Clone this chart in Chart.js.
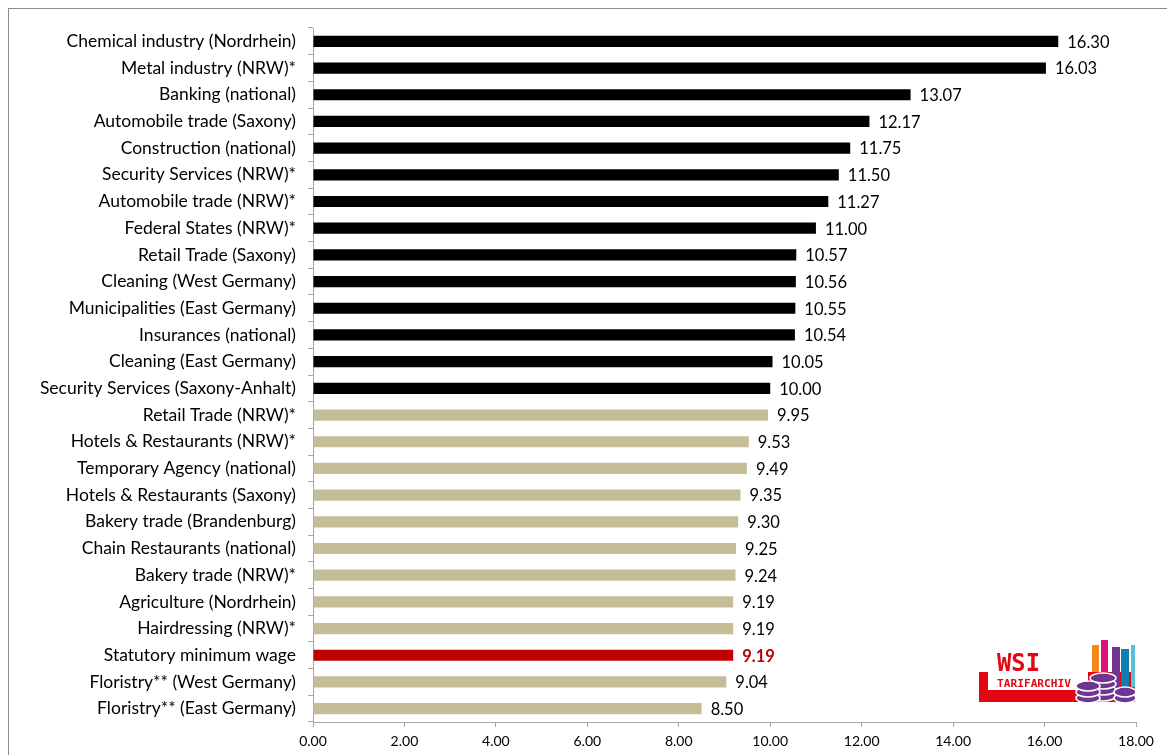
<!DOCTYPE html>
<html>
<head>
<meta charset="utf-8">
<script src="https://cdn.jsdelivr.net/npm/chart.js@4/dist/chart.umd.min.js"></script>
<style>
  html, body { margin: 0; padding: 0; background: #fff; overflow: hidden; }
  #wrap { position: relative; width: 1167px; height: 755px; }
  #rahmen { position: absolute; left: 8px; top: 8px; width: 1200px; height: 800px; border: 1px solid #8c8c8c; box-sizing: border-box; }
  canvas { position: absolute; left: 0; top: 0; }
  #logo { position: absolute; left: 975px; top: 636px; }
</style>
</head>
<body>
<div id="wrap">
  <div id="rahmen"></div>
  <canvas id="chart" width="1167" height="755"></canvas>
  <!-- WSI Tarifarchiv Logo -->
  <svg id="logo" width="165" height="70" viewBox="0 0 165 70">
    <path d="M4 36 H13 V54 H113 V36 H160 V66 H4 Z" fill="#e30613"/>
    <rect x="117" y="9" width="7" height="27" fill="#f08a1c"/>
    <rect x="126" y="4" width="7" height="32" fill="#d9127f"/>
    <rect x="137" y="11" width="8" height="40" fill="#6f3591"/>
    <rect x="146" y="13" width="8" height="38" fill="#0f7fb0"/>
    <rect x="156" y="9" width="4" height="42" fill="#5bc2d6"/>
    <g fill="#6f3591" stroke="#fff" stroke-width="1.5">
      <ellipse cx="128" cy="60" rx="13" ry="5"/>
      <ellipse cx="128" cy="54" rx="13" ry="5"/>
      <ellipse cx="128" cy="48" rx="13" ry="5"/>
      <ellipse cx="128" cy="42" rx="13" ry="5"/>
      <ellipse cx="150" cy="62" rx="11" ry="5"/>
      <ellipse cx="150" cy="56" rx="11" ry="5"/>
      <ellipse cx="113" cy="62" rx="12" ry="5"/>
      <ellipse cx="113" cy="56" rx="12" ry="5"/>
      <ellipse cx="113" cy="50" rx="12" ry="5"/>
    </g>
    <text x="22" y="35" font-family="DejaVu Sans Mono" font-weight="bold" font-size="24" textLength="43" lengthAdjust="spacingAndGlyphs" fill="#e30613">WSI</text>
    <text x="22" y="51" font-family="DejaVu Sans Mono" font-weight="bold" font-size="11" textLength="74" lengthAdjust="spacingAndGlyphs" fill="#e30613">TARIFARCHIV</text>
  </svg>
</div>
<script>
// Branchen (von oben nach unten)
const branchen = [
  'Chemical industry (Nordrhein)',
  'Metal industry (NRW)*',
  'Banking (national)',
  'Automobile trade (Saxony)',
  'Construction (national)',
  'Security Services (NRW)*',
  'Automobile trade (NRW)*',
  'Federal States (NRW)*',
  'Retail Trade (Saxony)',
  'Cleaning (West Germany)',
  'Municipalities (East Germany)',
  'Insurances (national)',
  'Cleaning (East Germany)',
  'Security Services (Saxony-Anhalt)',
  'Retail Trade (NRW)*',
  'Hotels & Restaurants (NRW)*',
  'Temporary Agency (national)',
  'Hotels & Restaurants (Saxony)',
  'Bakery trade (Brandenburg)',
  'Chain Restaurants (national)',
  'Bakery trade (NRW)*',
  'Agriculture (Nordrhein)',
  'Hairdressing (NRW)*',
  'Statutory minimum wage',
  'Floristry** (West Germany)',
  'Floristry** (East Germany)'
];

// Niedrigste Tarifvergütung in Euro pro Stunde
const verguetung = [16.30, 16.03, 13.07, 12.17, 11.75, 11.50, 11.27, 11.00, 10.57, 10.56,
                    10.55, 10.54, 10.05, 10.00, 9.95, 9.53, 9.49, 9.35, 9.30, 9.25,
                    9.24, 9.19, 9.19, 9.19, 9.04, 8.50];

// Achsenwerte
const achseTicks = [0, 2, 4, 6, 8, 10, 12, 14, 16, 18];

const MINDESTLOHN = 'Statutory minimum wage';
const SCHWARZ = '#000000';
const BEIGE = '#c4bd97';
const ROT = '#c00000';

// Balkenfarbe: schwarz ab 10 Euro, rot fuer den Mindestlohn, sonst beige
const farben = branchen.map((b, i) => b === MINDESTLOHN ? ROT : (verguetung[i] >= 10 ? SCHWARZ : BEIGE));

const schrift = 'Lato, "Open Sans", sans-serif';

// Werte rechts neben die Balken schreiben
const wertBeschriftung = {
  id: 'wertBeschriftung',
  afterDatasetsDraw(chart) {
    const ctx = chart.ctx;
    const meta = chart.getDatasetMeta(0);
    ctx.save();
    ctx.textBaseline = 'middle';
    ctx.textAlign = 'left';
    meta.data.forEach((bar, i) => {
      const rot = branchen[i] === MINDESTLOHN;
      ctx.fillStyle = rot ? ROT : '#000';
      ctx.font = (rot ? 'bold ' : '') + '16.5px ' + schrift;
      ctx.fillText(verguetung[i].toFixed(2), bar.x + 9, bar.y + 1);
    });
    ctx.restore();
  }
};

new Chart(document.getElementById('chart'), {
  type: 'bar',
  data: {
    labels: branchen,
    datasets: [{
      data: verguetung,
      backgroundColor: farben,
      borderWidth: 0,
      barPercentage: 0.42,
      categoryPercentage: 1
    }]
  },
  options: {
    indexAxis: 'y',
    responsive: false,
    animation: false,
    layout: { padding: { top: 28, right: 31, left: 0, bottom: 0 } },
    plugins: {
      legend: { display: false },
      tooltip: { enabled: false }
    },
    scales: {
      x: {
        min: 0,
        max: 18,
        afterBuildTicks: s => { s.ticks = achseTicks.map(v => ({ value: v })); },
        afterFit: s => { s.height = 33; },
        border: { color: '#a6a6a6', width: 1 },
        grid: { drawOnChartArea: false, drawTicks: true, tickLength: 5, color: '#a6a6a6' },
        ticks: {
          color: '#000',
          font: { family: schrift, size: 14 },
          padding: 6,
          callback: v => Number(v).toFixed(2)
        }
      },
      y: {
        afterFit: s => { s.width = 313; },
        border: { color: '#a6a6a6', width: 1 },
        grid: { drawOnChartArea: false, drawTicks: true, tickLength: 5, color: '#a6a6a6', offset: true },
        ticks: {
          color: '#000',
          font: { family: schrift, size: 17.5 },
          padding: 12,
          autoSkip: false
        }
      }
    }
  },
  plugins: [wertBeschriftung]
});
</script>
</body>
</html>
